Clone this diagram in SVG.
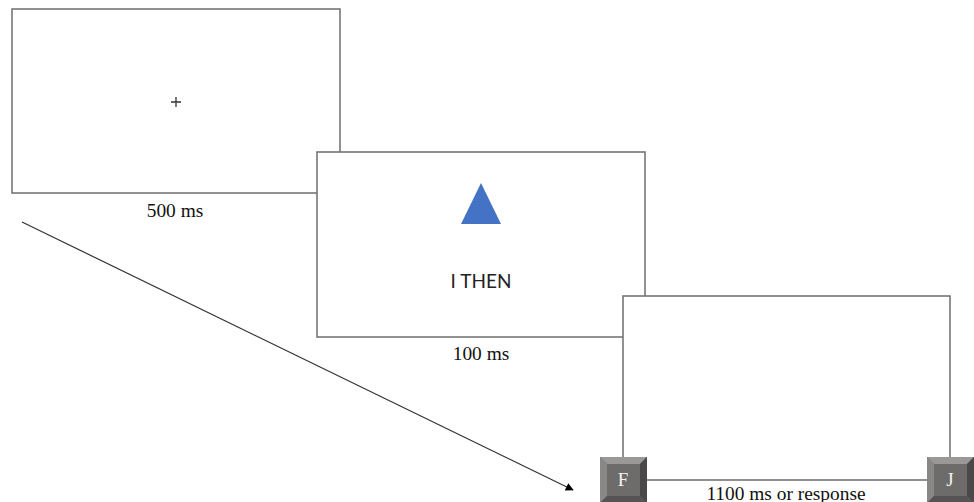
<svg xmlns="http://www.w3.org/2000/svg" width="974" height="502" viewBox="0 0 974 502">
  <style>
    .screen { fill: #ffffff; stroke: #767676; stroke-width: 1.6; }
    .dur { font-family: "Liberation Serif", "Times New Roman", serif; font-size: 19.4px; fill: #111111; text-anchor: middle; }
    .word { font-family: Lato, "Open Sans", sans-serif; font-size: 19px; fill: #222222; text-anchor: middle; }
    .keycap { font-family: "Liberation Serif", "Times New Roman", serif; font-size: 19px; fill: #f2f2f2; text-anchor: middle; }
  </style>
  <defs>
    <marker id="arrow" viewBox="0 0 10 10" refX="9" refY="5" markerWidth="9" markerHeight="8" orient="auto" markerUnits="userSpaceOnUse">
      <path d="M0,0 L10,5 L0,10 z" fill="#000000"/>
    </marker>
    <g id="key">
      <rect x="0" y="0" width="47" height="46" fill="#6e6b6b"/>
      <polygon points="0,0 47,0 40,7 7,7" fill="#9b9898"/>
      <polygon points="0,0 7,7 7,39 0,46" fill="#8a8787"/>
      <polygon points="47,0 47,46 40,39 40,7" fill="#4a4848"/>
      <polygon points="0,46 7,39 40,39 47,46" fill="#555353"/>
      <rect x="7" y="7" width="33" height="32" fill="#6e6b6b"/>
    </g>
  </defs>

  <!-- fixation screen -->
  <g id="fixation">
    <rect class="screen" x="12" y="9" width="328" height="184"/>
    <path d="M171,102 H181 M176,97 V107" stroke="#333333" stroke-width="1.3"/>
    <text class="dur" x="175" y="217">500 ms</text>
  </g>

  <!-- stimulus screen -->
  <g id="stimulus">
    <rect class="screen" x="317" y="152" width="328" height="185"/>
    <polygon points="481,183 501,224 461,224" fill="#4472c4"/>
    <text class="word" x="481" y="288">I THEN</text>
    <text class="dur" x="481" y="360">100 ms</text>
  </g>

  <!-- response screen -->
  <g id="response">
    <rect class="screen" x="623" y="296" width="327" height="184"/>
    <text class="dur" x="786" y="500">1100 ms or response</text>
  </g>

  <g id="key-f">
    <use href="#key" x="600" y="457"/>
    <text class="keycap" x="623" y="486">F</text>
  </g>
  <g id="key-j">
    <use href="#key" x="927" y="457"/>
    <text class="keycap" x="950" y="486">J</text>
  </g>

  <!-- time axis -->
  <g id="connectors">
    <line x1="22" y1="222" x2="573" y2="490" stroke="#333333" stroke-width="1.2" marker-end="url(#arrow)"/>
  </g>
</svg>
